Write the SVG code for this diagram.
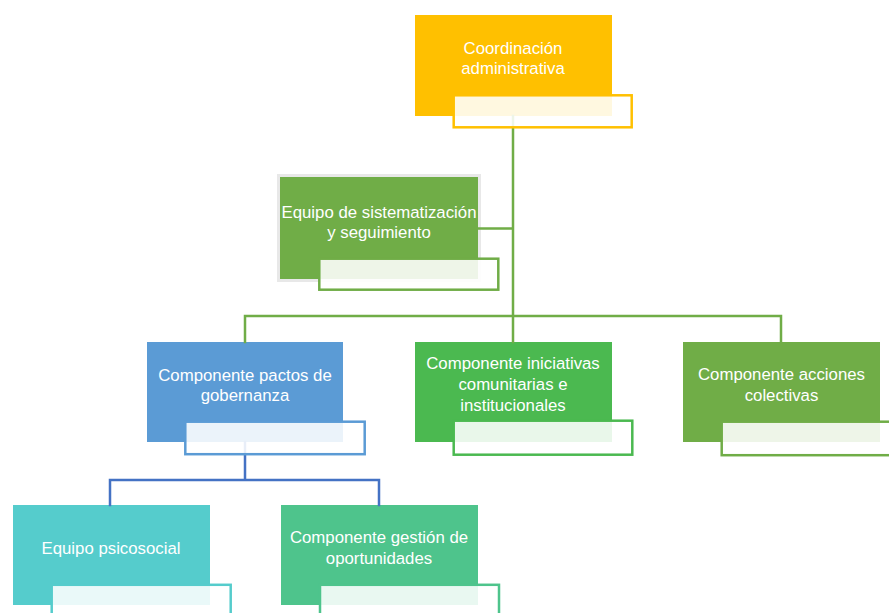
<svg xmlns="http://www.w3.org/2000/svg" width="889" height="613" viewBox="0 0 889 613">
  <style>
    .lbl { font-family: "Liberation Sans", Arial, sans-serif; font-size: 16.8px; fill: #FFFFFF; text-anchor: middle; }
    .sub { fill: #FFFFFF; fill-opacity: 0.88; stroke-width: 2.5; }
    .wire { fill: none; stroke-width: 2.5; stroke-linecap: square; }
    .green-wire { stroke: #70AD47; }
    .blue-wire { stroke: #4472C4; }
  </style>
  <rect width="889" height="613" fill="#FFFFFF"/>

  <!-- main boxes (drawn first so connectors and caption bars sit above) -->
  <g id="coordinacion-box">
    <rect x="415" y="15" width="197" height="101" fill="#FFC000"/>
    <text class="lbl" x="513" y="54">Coordinación</text>
    <text class="lbl" x="513" y="74">administrativa</text>
  </g>
  <g id="sistematizacion-box">
    <rect x="278.5" y="175.5" width="201" height="105" fill="none" stroke="#E8E8E8" stroke-width="3"/>
    <rect x="280" y="177" width="198" height="102" fill="#70AD47"/>
    <text class="lbl" x="379" y="218">Equipo de sistematización</text>
    <text class="lbl" x="379" y="238">y seguimiento</text>
  </g>
  <g id="pactos-box">
    <rect x="147" y="342" width="196" height="100" fill="#5B9BD5"/>
    <text class="lbl" x="245" y="381">Componente pactos de</text>
    <text class="lbl" x="245" y="401">gobernanza</text>
  </g>
  <g id="iniciativas-box">
    <rect x="415" y="342" width="197" height="100" fill="#4BB950"/>
    <text class="lbl" x="513" y="369">Componente iniciativas</text>
    <text class="lbl" x="513" y="390">comunitarias e</text>
    <text class="lbl" x="513" y="411">institucionales</text>
  </g>
  <g id="acciones-box">
    <rect x="683" y="342" width="197" height="100" fill="#70AD47"/>
    <text class="lbl" x="781.5" y="380">Componente acciones</text>
    <text class="lbl" x="781.5" y="401">colectivas</text>
  </g>
  <g id="psicosocial-box">
    <rect x="13" y="505" width="197" height="100" fill="#55CCCC"/>
    <text class="lbl" x="111" y="554">Equipo psicosocial</text>
  </g>
  <g id="oportunidades-box">
    <rect x="281" y="505" width="197" height="100" fill="#4EC48C"/>
    <text class="lbl" x="379" y="543">Componente gestión de</text>
    <text class="lbl" x="379" y="564">oportunidades</text>
  </g>

  <!-- connectors -->
  <g id="connectors">
    <path class="wire green-wire" d="M513,116 V342 M478,228.5 H513 M245,316 H781 M245,316 V342 M781,316 V342"/>
    <path class="wire blue-wire" d="M245,442 V480 M110,480 H379 M110,480 V505 M379,480 V505"/>
  </g>

  <!-- caption bars overlapping the lower right of each box -->
  <g id="caption-bars">
    <rect class="sub" x="453.7" y="95.3" width="178" height="32" stroke="#FFC000"/>
    <rect class="sub" x="319.3" y="258.7" width="179" height="31" stroke="#70AD47"/>
    <rect class="sub" x="185.3" y="421.7" width="179.4" height="32.5" stroke="#5B9BD5"/>
    <rect class="sub" x="453.7" y="420.7" width="178.6" height="34" stroke="#4BB950"/>
    <rect class="sub" x="721.7" y="421.7" width="179" height="33.5" stroke="#70AD47"/>
    <rect class="sub" x="51.7" y="584.8" width="179" height="34" stroke="#55CCCC"/>
    <rect class="sub" x="320" y="584.8" width="179" height="34" stroke="#4EC48C"/>
  </g>
</svg>
